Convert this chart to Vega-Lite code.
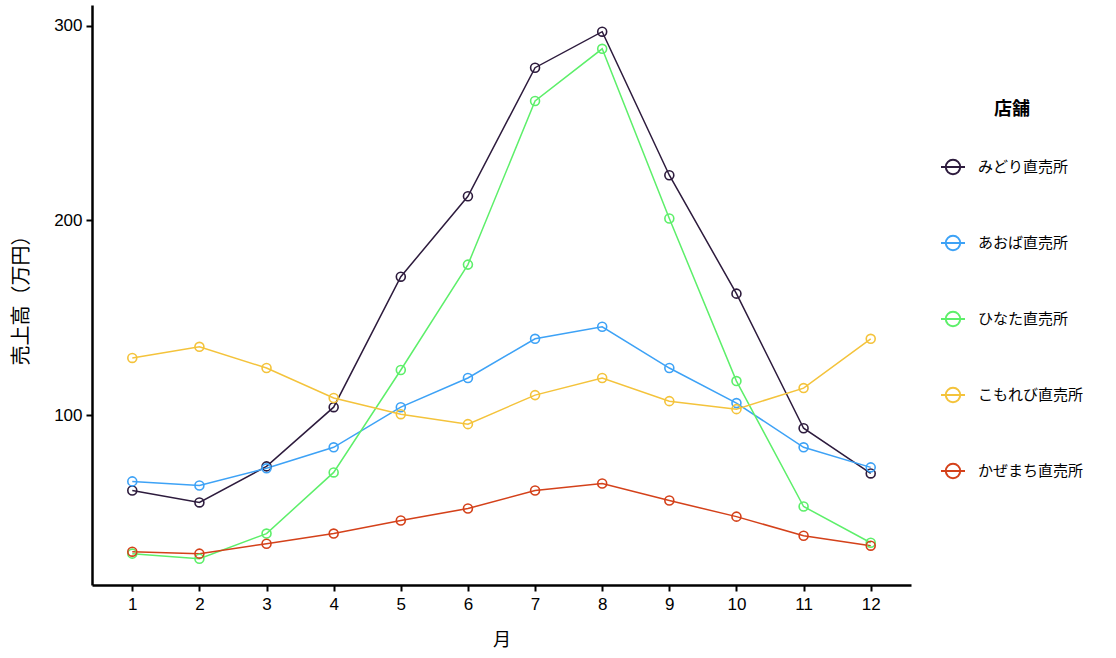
{
  "$schema": "https://vega.github.io/schema/vega-lite/v6.json",
  "width": 819,
  "height": 580,
  "autosize": "none",
  "padding": {"left": 92, "top": 5, "right": 205, "bottom": 73},
  "background": "white",
  "config": {
    "view": {"stroke": null},
    "font": "Noto Sans CJK JP"
  },
  "data": {
    "values": [
      {"月": 1, "店舗": "みどり直売所", "売上高": 61.3},
      {"月": 2, "店舗": "みどり直売所", "売上高": 55.2},
      {"月": 3, "店舗": "みどり直売所", "売上高": 73.7},
      {"月": 4, "店舗": "みどり直売所", "売上高": 104.1},
      {"月": 5, "店舗": "みどり直売所", "売上高": 171.1},
      {"月": 6, "店舗": "みどり直売所", "売上高": 212.4},
      {"月": 7, "店舗": "みどり直売所", "売上高": 278.4},
      {"月": 8, "店舗": "みどり直売所", "売上高": 296.9},
      {"月": 9, "店舗": "みどり直売所", "売上高": 223.2},
      {"月": 10, "店舗": "みどり直売所", "売上高": 162.4},
      {"月": 11, "店舗": "みどり直売所", "売上高": 93.3},
      {"月": 12, "店舗": "みどり直売所", "売上高": 70.1},
      {"月": 1, "店舗": "あおば直売所", "売上高": 66.0},
      {"月": 2, "店舗": "あおば直売所", "売上高": 63.9},
      {"月": 3, "店舗": "あおば直売所", "売上高": 72.7},
      {"月": 4, "店舗": "あおば直売所", "売上高": 83.5},
      {"月": 5, "店舗": "あおば直売所", "売上高": 104.1},
      {"月": 6, "店舗": "あおば直売所", "売上高": 119.1},
      {"月": 7, "店舗": "あおば直売所", "売上高": 139.2},
      {"月": 8, "店舗": "あおば直売所", "売上高": 145.4},
      {"月": 9, "店舗": "あおば直売所", "売上高": 124.2},
      {"月": 10, "店舗": "あおば直売所", "売上高": 106.2},
      {"月": 11, "店舗": "あおば直売所", "売上高": 83.5},
      {"月": 12, "店舗": "あおば直売所", "売上高": 73.2},
      {"月": 1, "店舗": "ひなた直売所", "売上高": 28.9},
      {"月": 2, "店舗": "ひなた直売所", "売上高": 26.3},
      {"月": 3, "店舗": "ひなた直売所", "売上高": 39.2},
      {"月": 4, "店舗": "ひなた直売所", "売上高": 70.6},
      {"月": 5, "店舗": "ひなた直売所", "売上高": 123.2},
      {"月": 6, "店舗": "ひなた直売所", "売上高": 177.3},
      {"月": 7, "店舗": "ひなた直売所", "売上高": 261.3},
      {"月": 8, "店舗": "ひなた直売所", "売上高": 288.1},
      {"月": 9, "店舗": "ひなた直売所", "売上高": 201.0},
      {"月": 10, "店舗": "ひなた直売所", "売上高": 117.5},
      {"月": 11, "店舗": "ひなた直売所", "売上高": 53.1},
      {"月": 12, "店舗": "ひなた直売所", "売上高": 34.5},
      {"月": 1, "店舗": "こもれび直売所", "売上高": 129.4},
      {"月": 2, "店舗": "こもれび直売所", "売上高": 135.1},
      {"月": 3, "店舗": "こもれび直売所", "売上高": 124.2},
      {"月": 4, "店舗": "こもれび直売所", "売上高": 108.8},
      {"月": 5, "店舗": "こもれび直売所", "売上高": 100.5},
      {"月": 6, "店舗": "こもれび直売所", "売上高": 95.4},
      {"月": 7, "店舗": "こもれび直売所", "売上高": 110.3},
      {"月": 8, "店舗": "こもれび直売所", "売上高": 119.1},
      {"月": 9, "店舗": "こもれび直売所", "売上高": 107.2},
      {"月": 10, "店舗": "こもれび直売所", "売上高": 103.1},
      {"月": 11, "店舗": "こもれび直売所", "売上高": 113.9},
      {"月": 12, "店舗": "こもれび直売所", "売上高": 139.2},
      {"月": 1, "店舗": "かぜまち直売所", "売上高": 29.9},
      {"月": 2, "店舗": "かぜまち直売所", "売上高": 28.9},
      {"月": 3, "店舗": "かぜまち直売所", "売上高": 34.0},
      {"月": 4, "店舗": "かぜまち直売所", "売上高": 39.2},
      {"月": 5, "店舗": "かぜまち直売所", "売上高": 45.9},
      {"月": 6, "店舗": "かぜまち直売所", "売上高": 52.1},
      {"月": 7, "店舗": "かぜまち直売所", "売上高": 61.3},
      {"月": 8, "店舗": "かぜまち直売所", "売上高": 64.9},
      {"月": 9, "店舗": "かぜまち直売所", "売上高": 56.2},
      {"月": 10, "店舗": "かぜまち直売所", "売上高": 47.9},
      {"月": 11, "店舗": "かぜまち直売所", "売上高": 38.1},
      {"月": 12, "店舗": "かぜまち直売所", "売上高": 33.0}
    ]
  },
  "encoding": {
    "x": {
      "field": "月",
      "type": "quantitative",
      "scale": {"domain": [0.4, 12.6], "nice": false, "zero": false},
      "axis": {
        "values": [1, 2, 3, 4, 5, 6, 7, 8, 9, 10, 11, 12],
        "title": "月",
        "grid": false,
        "domainColor": "black",
        "domainWidth": 2.5,
        "tickColor": "black",
        "tickWidth": 2,
        "tickSize": 6,
        "labelFont": "Liberation Sans",
        "labelFontSize": 17,
        "labelColor": "black",
        "labelPadding": 5,
        "titleFont": "Noto Sans CJK JP",
        "titleFontSize": 18,
        "titleFontWeight": "normal",
        "titleColor": "black",
        "titlePadding": 19
      }
    },
    "y": {
      "field": "売上高",
      "type": "quantitative",
      "scale": {"domain": [12.8, 310.6], "nice": false, "zero": false},
      "axis": {
        "values": [100, 200, 300],
        "title": "売上高（万円）",
        "grid": false,
        "domainColor": "black",
        "domainWidth": 2.5,
        "tickColor": "black",
        "tickWidth": 2,
        "tickSize": 6,
        "labelFont": "Liberation Sans",
        "labelFontSize": 17,
        "labelColor": "black",
        "labelPadding": 4,
        "titleFont": "Noto Sans CJK JP",
        "titleFontSize": 20,
        "titleFontWeight": "normal",
        "titleColor": "black",
        "titlePadding": 22
      }
    },
    "color": {
      "field": "店舗",
      "type": "nominal",
      "sort": ["みどり直売所", "あおば直売所", "ひなた直売所", "こもれび直売所", "かぜまち直売所"],
      "scale": {
        "domain": ["みどり直売所", "あおば直売所", "ひなた直売所", "こもれび直売所", "かぜまち直売所"],
        "range": ["#2D1B3D", "#3DA2F6", "#5DEF6A", "#F4C33B", "#D4411A"]
      },
      "legend": {
        "title": "店舗",
        "orient": "none",
        "legendX": 848,
        "legendY": 96,
        "titleFont": "Noto Sans CJK JP",
        "titleFontSize": 18,
        "titleFontWeight": "bold",
        "titleColor": "black",
        "titleAnchor": "middle",
        "titlePadding": 35,
        "labelFont": "Noto Sans CJK JP",
        "labelFontSize": 15,
        "labelColor": "black",
        "labelOffset": 12,
        "rowPadding": 51,
        "symbolType": "M -1 0 L 1 0 M 0.6 0 A 0.6 0.6 0 1 1 -0.6 0 A 0.6 0.6 0 1 1 0.6 0 Z",
        "symbolSize": 576,
        "symbolStrokeWidth": 2,
        "symbolFillColor": "transparent"
      }
    }
  },
  "layer": [
    {
      "mark": {"type": "line", "strokeWidth": 1.5}
    },
    {
      "mark": {"type": "point", "shape": "circle", "filled": false, "size": 80, "strokeWidth": 1.6, "opacity": 1}
    }
  ]
}
